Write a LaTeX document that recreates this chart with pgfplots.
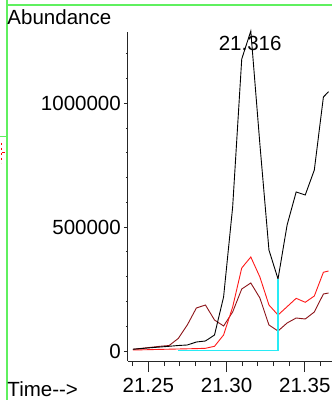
\documentclass[border=0pt]{standalone}
\usepackage{fontspec}
\setmainfont{Liberation Sans}
\usepackage{pgfplots}
\usepackage{pgfplotstable}
\pgfplotsset{compat=1.18}

\definecolor{ticred}{RGB}{255,25,25}
\definecolor{ticdark}{RGB}{140,20,25}
\definecolor{baseln}{RGB}{40,235,245}
\definecolor{frame}{RGB}{95,240,95}

% time, three ion traces
\pgfplotstableread{
t       black   red     dark
21.2401 7000    4000    6900
21.2459 10000   4800    10900
21.2517 13300   5600    14900
21.2575 16100   6500    19000
21.2633 19000   7300    22200
21.2691 22200   8100    50400
21.2749 24200   8900    104900
21.2807 36300   9700    173500
21.2865 40400   10900   185600
21.2923 64600   19000   125100
21.2981 217900  64600   100900
21.3039 581000  177500  157400
21.3097 1178000 334900  250200
21.3155 1291000 379300  274400
21.3213 835000  298600  213900
21.3271 407500  185600  104900
21.3329 290500  145300  80700
21.3387 508400  178800  113000
21.3445 641600  212600  133200
21.3503 629500  196500  129100
21.3561 730300  221900  157400
21.3619 1024900 317600  230000
21.3652 1046000 322800  234000
}\tic

\pgfplotsset{
  common/.style={
    at={(0pt,0pt)}, anchor=south west,
    scale only axis, width=204pt, height=329pt,
    xmin=21.237, xmax=21.3674, ymin=-40350, ymax=1287165,
    clip=false, tick align=outside,
    tick label style={font=\fontsize{20.5}{24}\selectfont},
    /pgf/number format/assume math mode=true,
    axis line style={line width=1pt, black!85},
    tick style={line width=0.9pt, black!85},
  }
}

\begin{document}
\fontsize{20.5}{24}\selectfont
\begin{tikzpicture}
\useasboundingbox (-128pt,-39pt) rectangle (204pt,361pt);

% window border bits
\draw[frame, line width=1.8pt] (-121pt,-39pt) -- (-121pt,361pt);
\draw[frame, line width=1.8pt] (-121pt,356.3pt) -- (204pt,356.3pt);
\draw[frame, line width=1.2pt] (-128pt,224.3pt) -- (-121pt,224.3pt);
\draw[red, line width=0.8pt, dash pattern=on 2pt off 3pt] (-127pt,218pt) -- (-127pt,198pt);
\draw[red, line width=1pt] (-126pt,208pt) -- (-122.5pt,208pt);

% x axis and data
\begin{axis}[common,
  axis x line*=bottom, axis y line=none,
  xtick={21.25,21.30,21.35},
  xticklabels={21.25,21.30,21.35},
  minor xtick={21.24,21.26,21.27,21.28,21.29,21.31,21.32,21.33,21.34,21.36},
  major tick length=11pt, minor tick length=5pt,
  xticklabel style={anchor=base, inner sep=0pt, yshift=-20.5pt},
]
\addplot[ticdark, line width=0.9pt] table[x=t, y=dark] {\tic};
\addplot[ticred, line width=0.9pt] table[x=t, y=red] {\tic};
\addplot[black, line width=0.9pt] table[x=t, y=black] {\tic};
\addplot[baseln, line width=1.2pt] coordinates {(21.2691,2800) (21.3329,2800) (21.3329,290500)};
\end{axis}

% y axis
\begin{axis}[common,
  axis y line*=left, axis x line=none,
  ytick={0,500000,1000000},
  yticklabels={0,500000,1000000},
  minor ytick={100000,200000,300000,400000,600000,700000,800000,900000,1100000,1200000},
  scaled y ticks=false,
  major tick length=4pt, minor tick length=2pt,
  yticklabel style={anchor=east, inner sep=0pt, xshift=-3pt},
]
\addplot[draw=none] coordinates {(21.25,0)};
\end{axis}

\node[anchor=base west, inner sep=0pt] at (-120.7pt,336pt) {Abundance};
\node[anchor=base west, inner sep=0pt] at (-120.7pt,-35pt) {Time-{}-{}>};
\node[anchor=base, inner sep=0pt] at (122.2pt,310pt) {21.316};
\end{tikzpicture}
\end{document}
